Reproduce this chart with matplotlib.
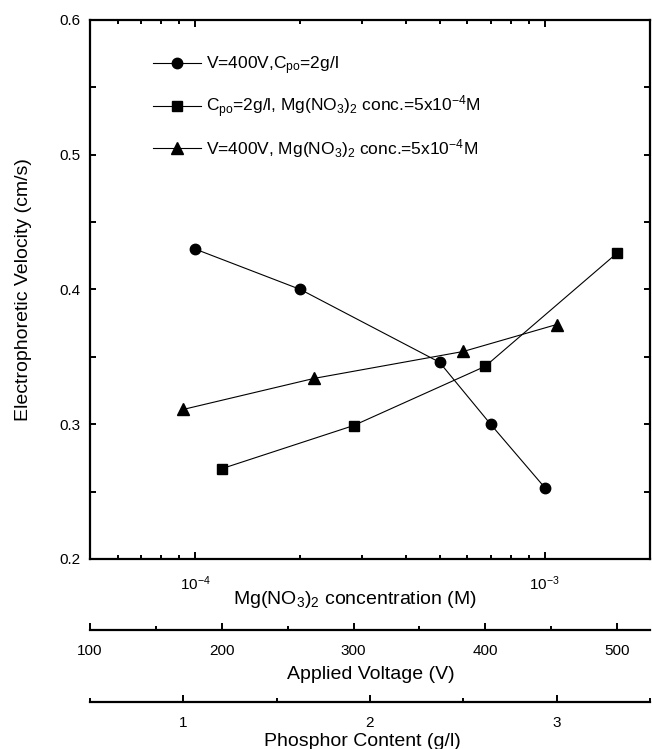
import matplotlib
matplotlib.use("Agg")
from matplotlib import pyplot as plt
from matplotlib.ticker import LogLocator, NullFormatter, MultipleLocator, LogFormatterMathtext

plt.rcParams['font.family'] = ['Liberation Sans', 'DejaVu Sans']
plt.rcParams['mathtext.fontset'] = 'custom'
plt.rcParams['mathtext.rm'] = 'Liberation Sans'
plt.rcParams['mathtext.it'] = 'Liberation Sans:italic'
plt.rcParams['mathtext.default'] = 'regular'

# V=400V, Cpo=2g/l  -> varying Mg(NO3)2 concentration
conc = [1e-4, 2e-4, 5e-4, 7e-4, 1e-3]
vel_conc = [0.430, 0.400, 0.346, 0.300, 0.253]

# Cpo=2g/l, Mg(NO3)2 conc.=5e-4 M -> varying applied voltage
voltage = [200, 300, 400, 500]
vel_voltage = [0.267, 0.299, 0.343, 0.427]

# V=400V, Mg(NO3)2 conc.=5e-4 M -> varying phosphor content
phosphor = [1.0, 1.7, 2.5, 3.0]
vel_phosphor = [0.311, 0.334, 0.354, 0.374]

labels = [r'V=400V,C$_{po}$=2g/l',
          r'C$_{po}$=2g/l, Mg(NO$_3$)$_2$ conc.=5x10$^{-4}$M',
          r'V=400V, Mg(NO$_3$)$_2$ conc.=5x10$^{-4}$M']

fig = plt.figure(figsize=(6.52, 7.49), dpi=100)
ax = fig.add_axes([0.138, 0.2537, 0.8589, 0.7196])

spine_w = 1.6
tick_fs = 11
label_fs = 14
line_kw = dict(color='black', lw=0.8)

# extra x axes for voltage and phosphor content
ax_v = ax.twiny()
ax_p = ax.twiny()

l1, = ax.plot(conc, vel_conc, marker='o', ms=7.5, **line_kw)
ax.set_xscale('log')
ax.set_xlim(5e-5, 2e-3)
ax.set_ylim(0.2, 0.6)

l2, = ax_v.plot(voltage, vel_voltage, marker='s', ms=6.5, **line_kw)
ax_v.set_xlim(100, 525)

l3, = ax_p.plot(phosphor, vel_phosphor, marker='^', ms=8, **line_kw)
ax_p.set_xlim(0.5, 3.5)

# main axes styling
for s in ax.spines.values():
    s.set_linewidth(spine_w)
ax.xaxis.set_major_locator(LogLocator(base=10))
ax.xaxis.set_minor_locator(LogLocator(base=10, subs=range(2, 10)))
ax.xaxis.set_major_formatter(LogFormatterMathtext())
ax.xaxis.set_minor_formatter(NullFormatter())
ax.yaxis.set_major_locator(MultipleLocator(0.1))
ax.yaxis.set_minor_locator(MultipleLocator(0.05))
ax.tick_params(axis='x', which='both', direction='in', top=True, bottom=True,
               labeltop=False, labelbottom=True, width=1.4, labelsize=tick_fs, pad=11)
ax.tick_params(axis='x', which='major', length=5)
ax.tick_params(axis='x', which='minor', length=3)
ax.tick_params(axis='y', which='both', direction='in', left=True, right=True,
               labelright=False, width=1.4, length=4, labelsize=tick_fs, pad=7)
ax.set_ylabel('Electrophoretic Velocity (cm/s)', fontsize=label_fs)
ax.yaxis.set_label_coords(-0.104, 0.5)
ax.set_xlabel(r'Mg(NO$_3$)$_2$ concentration (M)', fontsize=label_fs)
ax.xaxis.set_label_coords(0.473, -0.056)

# secondary bottom axes (offsets in points)
for a, off, major, minor, label, lx, ly in [
        (ax_v, 51, 100, 50, 'Applied Voltage (V)', 0.502, -0.199),
        (ax_p, 103, 1, 0.5, 'Phosphor Content (g/l)', 0.486, -0.322)]:
    a.xaxis.set_ticks_position('bottom')
    a.xaxis.set_label_position('bottom')
    for name in ['top', 'left', 'right']:
        a.spines[name].set_visible(False)
    a.spines['bottom'].set_position(('outward', off))
    a.spines['bottom'].set_linewidth(spine_w)
    a.xaxis.set_major_locator(MultipleLocator(major))
    a.xaxis.set_minor_locator(MultipleLocator(minor))
    a.tick_params(axis='x', which='both', direction='in', width=1.4,
                  labelsize=tick_fs, pad=10)
    a.tick_params(axis='x', which='major', length=5)
    a.tick_params(axis='x', which='minor', length=3)
    a.set_xlabel(label, fontsize=label_fs)
    a.xaxis.set_label_coords(lx, ly)

# twiny resets main axis ticks to bottom only; restore mirrored top ticks
ax.tick_params(axis='x', which='both', top=True, labeltop=False)
ax_p.yaxis.set_visible(False)
ax_v.yaxis.set_visible(False)

ax_p.legend([l1, l2, l3], labels, loc='upper left', bbox_to_anchor=(0.113, 0.936),
            frameon=False, borderaxespad=0, borderpad=0, fontsize=12.5,
            handlelength=2.75, handletextpad=0.3, labelspacing=0.97)

fig.savefig('out.png', dpi=100)
